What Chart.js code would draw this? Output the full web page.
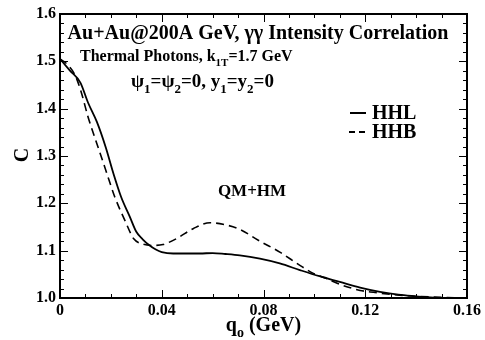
<!DOCTYPE html>
<html>
<head>
<meta charset="utf-8">
<script src="https://cdn.jsdelivr.net/npm/chart.js@4"></script>
<style>
  html, body { margin: 0; padding: 0; background: #fff; }
  #wrap { width: 485px; height: 340px; }
</style>
</head>
<body>
<div id="wrap"><canvas id="chart" width="485" height="340"></canvas></div>
<script>
// HHL (solid) curve
const qHHL = [0, 0.004, 0.008, 0.011, 0.0145, 0.018, 0.021, 0.024, 0.0275, 0.030, 0.0325, 0.035, 0.0375,
              0.040, 0.0445, 0.050, 0.055, 0.060, 0.065, 0.0707, 0.0786, 0.0864, 0.0943, 0.102, 0.110,
              0.118, 0.1258, 0.133, 0.139, 0.147, 0.16];
const cHHL = [1.505, 1.48, 1.455, 1.413, 1.372, 1.318, 1.263, 1.214, 1.171, 1.14, 1.124, 1.112, 1.103,
              1.097, 1.094, 1.094, 1.094, 1.095, 1.093, 1.09, 1.083, 1.073, 1.059, 1.046, 1.034,
              1.022, 1.013, 1.007, 1.004, 1.001, 1.0];

// HHB (dashed) curve
const qHHB = [0, 0.003, 0.006, 0.0085, 0.011, 0.0145, 0.018, 0.0215, 0.0255, 0.029, 0.0325, 0.0365,
              0.0405, 0.046, 0.0525, 0.059, 0.0655, 0.0707, 0.0786, 0.0864, 0.0943, 0.0996, 0.1048, 0.110,
              0.118, 0.1232, 0.1335, 0.147, 0.16];
const cHHB = [1.505, 1.493, 1.47, 1.432, 1.383, 1.326, 1.27, 1.214, 1.164, 1.125, 1.114, 1.111,
              1.113, 1.126, 1.147, 1.159, 1.154, 1.145, 1.12, 1.097, 1.069, 1.052, 1.041, 1.029,
              1.016, 1.012, 1.006, 1.002, 1.0];

const seriesNames = ['HHL', 'HHB'];
const xTicks = [0, 0.04, 0.08, 0.12, 0.16];
const yTicks = [1.0, 1.1, 1.2, 1.3, 1.4, 1.5, 1.6];

const FONT = '"Liberation Serif", "Times New Roman", serif';

function toPoints(xs, ys) {
    return xs.map((x, i) => ({ x: x, y: ys[i] }));
}

// draw text made of normal and subscript pieces
function drawRich(ctx, parts, x, y, size, align) {
    const subSize = Math.round(size * 0.7);
    let total = 0;
    parts.forEach(p => {
        ctx.font = 'bold ' + (p[1] ? subSize : size) + 'px ' + FONT;
        total += ctx.measureText(p[0]).width;
    });
    let cx = align === 'center' ? x - total / 2 : x;
    ctx.textAlign = 'left';
    ctx.textBaseline = 'alphabetic';
    parts.forEach(p => {
        ctx.font = 'bold ' + (p[1] ? subSize : size) + 'px ' + FONT;
        ctx.fillText(p[0], cx, p[1] ? y + size * 0.3 : y);
        cx += ctx.measureText(p[0]).width;
    });
}

// inward ticks on all four sides, frame, texts, legend
const decorPlugin = {
    id: 'decor',
    afterDraw(chart) {
        const ctx = chart.ctx;
        const a = chart.chartArea;
        const xs = chart.scales.x, ys = chart.scales.y;
        ctx.save();
        ctx.strokeStyle = '#000';
        ctx.fillStyle = '#000';
        ctx.lineWidth = 1;

        for (let i = 0; i <= 16; i++) {
            const px = Math.round(xs.getPixelForValue(i * 0.01)) + 0.5;
            const len = i % 4 === 0 ? 8 : 4;
            ctx.beginPath();
            ctx.moveTo(px, a.bottom); ctx.lineTo(px, a.bottom - len);
            ctx.moveTo(px, a.top); ctx.lineTo(px, a.top + len);
            ctx.stroke();
        }
        for (let i = 0; i <= 30; i++) {
            const py = Math.round(ys.getPixelForValue(1 + i * 0.02)) + 0.5;
            const len = i % 5 === 0 ? 8 : 4;
            ctx.beginPath();
            ctx.moveTo(a.left, py); ctx.lineTo(a.left + len, py);
            ctx.moveTo(a.right, py); ctx.lineTo(a.right - len, py);
            ctx.stroke();
        }

        ctx.lineWidth = 2;
        ctx.strokeRect(a.left, a.top, a.right - a.left, a.bottom - a.top);

        // axis titles
        drawRich(ctx, [['q', 0], ['o', 1], [' (GeV)', 0]], (a.left + a.right) / 2, 331, 20, 'center');
        ctx.save();
        ctx.translate(28, 155);
        ctx.rotate(-Math.PI / 2);
        drawRich(ctx, [['C', 0]], 0, 0, 20, 'center');
        ctx.restore();

        // annotations
        drawRich(ctx, [['Au+Au@200A GeV, \u03b3\u03b3 Intensity Correlation', 0]], 258, 39, 20, 'center');
        drawRich(ctx, [['Thermal Photons, k', 0], ['1T', 1], ['=1.7 GeV', 0]], 80, 61, 16, 'left');
        drawRich(ctx, [['\u03c8', 0], ['1', 1], ['=\u03c8', 0], ['2', 1], ['=0, y', 0], ['1', 1], ['=y', 0], ['2', 1], ['=0', 0]], 131, 87, 19, 'left');
        drawRich(ctx, [['QM+HM', 0]], 252, 196, 17, 'center');

        // legend
        ctx.lineWidth = 2;
        ctx.beginPath(); ctx.moveTo(350, 113); ctx.lineTo(366, 113); ctx.stroke();
        ctx.setLineDash([6, 4]);
        ctx.beginPath(); ctx.moveTo(349, 132); ctx.lineTo(367, 132); ctx.stroke();
        ctx.setLineDash([]);
        drawRich(ctx, [[seriesNames[0], 0]], 372, 119, 20, 'left');
        drawRich(ctx, [[seriesNames[1], 0]], 372, 138, 20, 'left');
        ctx.restore();
    }
};

new Chart(document.getElementById('chart'), {
    type: 'line',
    data: {
        datasets: [{
            label: seriesNames[0],
            data: toPoints(qHHL, cHHL),
            borderColor: '#000',
            borderWidth: 1.8,
            pointRadius: 0,
            cubicInterpolationMode: 'monotone'
        }, {
            label: seriesNames[1],
            data: toPoints(qHHB, cHHB),
            borderColor: '#000',
            borderWidth: 1.6,
            borderDash: [8, 5],
            pointRadius: 0,
            cubicInterpolationMode: 'monotone'
        }]
    },
    options: {
        responsive: false,
        animation: false,
        layout: { padding: { left: 0, top: 14, right: 18, bottom: 0 } },
        plugins: { legend: { display: false }, tooltip: { enabled: false } },
        scales: {
            x: {
                type: 'linear',
                min: 0, max: 0.16,
                afterFit: s => { s.height = 42; },
                afterBuildTicks: s => { s.ticks = xTicks.map(v => ({ value: v })); },
                grid: { display: false, drawTicks: false },
                border: { display: false },
                ticks: {
                    padding: 3,
                    color: '#000',
                    font: { family: FONT, size: 16, weight: 'bold' },
                    callback: v => v === 0 ? '0' : v.toFixed(2)
                }
            },
            y: {
                min: 1.0, max: 1.6,
                afterFit: s => { s.width = 60; },
                afterBuildTicks: s => { s.ticks = yTicks.map(v => ({ value: v })); },
                grid: { display: false, drawTicks: false },
                border: { display: false },
                ticks: {
                    padding: 4,
                    color: '#000',
                    font: { family: FONT, size: 16, weight: 'bold' },
                    callback: v => v.toFixed(1)
                }
            }
        }
    },
    plugins: [decorPlugin]
});
</script>
</body>
</html>
